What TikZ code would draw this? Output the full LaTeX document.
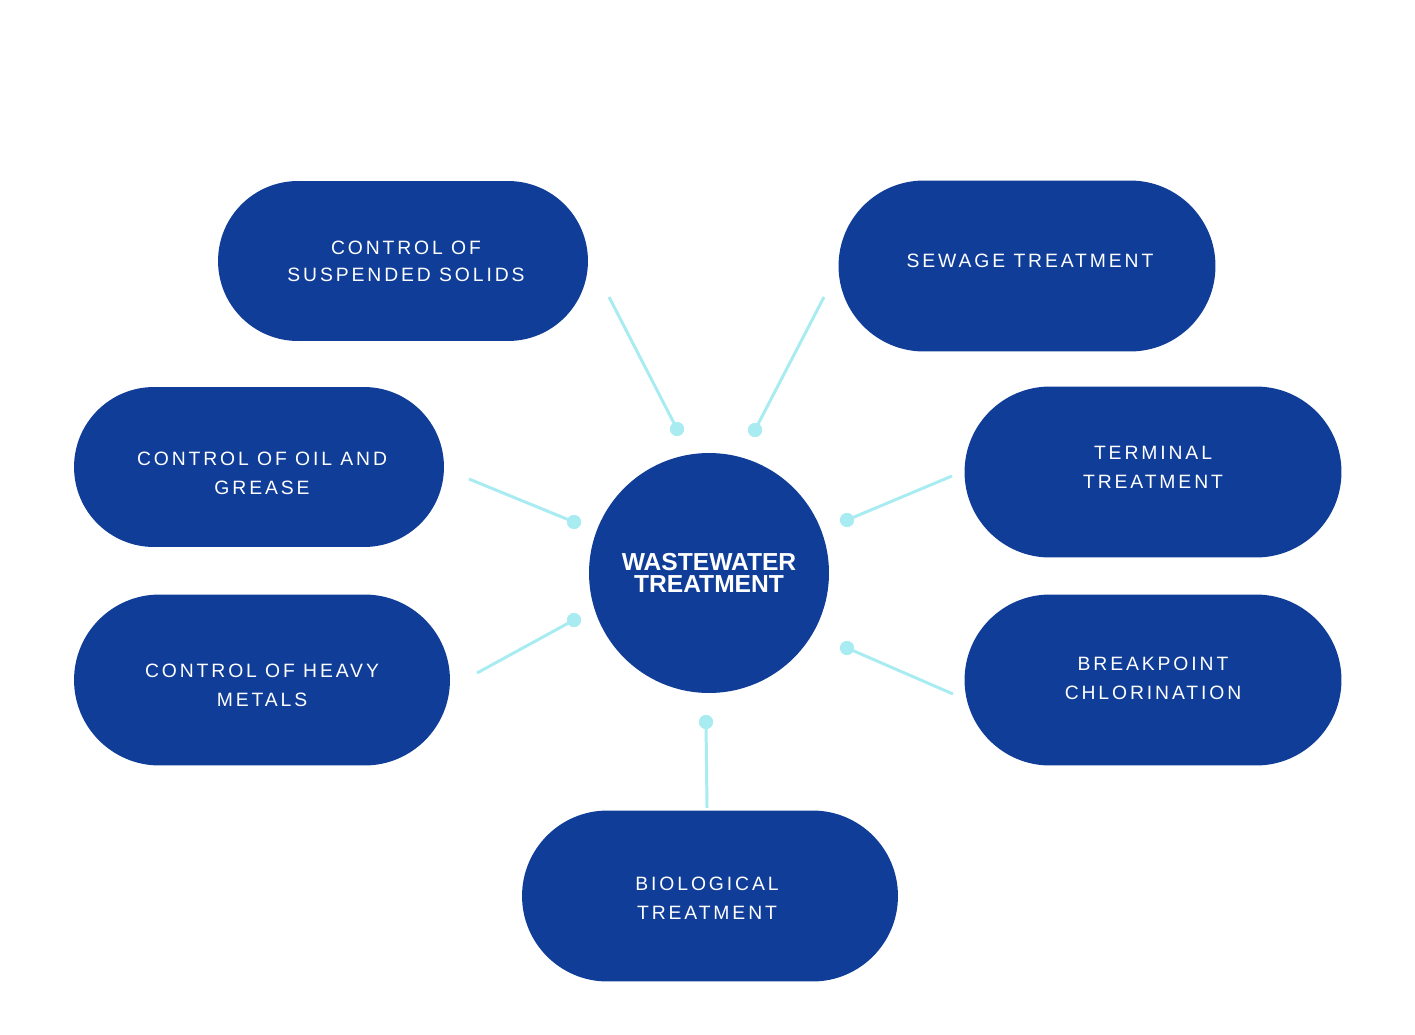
\documentclass[tikz,border=0pt]{standalone}
\usepackage{fontspec}
\setmainfont{Liberation Sans}
\newfontfamily\pillfont[LetterSpace=15]{Liberation Sans}
\usetikzlibrary{shapes.misc}
\definecolor{navy}{HTML}{0F3D98}
\definecolor{aqua}{HTML}{A8ECF2}

\begin{document}
\begin{tikzpicture}[x=0.02cm, y=-0.02cm,
	pill/.style={rounded rectangle, fill=navy, inner sep=0pt,
		minimum width=7.54cm, minimum height=3.42cm},
	pilltext/.style={text=white, align=center, inner sep=0pt,
		font=\pillfont\fontsize{11}{16.4}\selectfont},
	hub/.style={circle, fill=navy, text=white, align=center, minimum size=4.8cm,
		font=\bfseries\fontsize{14}{12.5}\selectfont},
	dot/.style={circle, fill=aqua, inner sep=0pt, minimum size=0.28cm},
	link/.style={draw=aqua, line width=1.7pt}]
	\useasboundingbox (0,0) rectangle (1415,1034);

	\node[hub] (hub) at (709, 573) {WASTEWATER\\TREATMENT};

	\node[pill, minimum width=7.4cm, minimum height=3.2cm] (solids) at (403, 261) {};
	\node[pill] (sewage) at (1027, 266) {};
	\node[pill, minimum width=7.4cm, minimum height=3.2cm] (oil) at (259, 467) {};
	\node[pill, minimum width=7.52cm] (metals) at (262, 680) {};
	\node[pill] (terminal) at (1153, 472) {};
	\node[pill] (breakpoint) at (1153, 680) {};
	\node[pill, minimum width=7.52cm] (bio) at (710, 896) {};

	\node[pilltext, font=\pillfont\fontsize{11}{15.3}\selectfont] (solids-t) at (406, 261) {CONTROL OF\\SUSPENDED SOLIDS};
	\node[pilltext] (sewage-t) at (1030, 261) {SEWAGE TREATMENT};
	\node[pilltext] (oil-t) at (262, 473) {CONTROL OF OIL AND\\GREASE};
	\node[pilltext] (metals-t) at (262, 685) {CONTROL OF HEAVY\\METALS};
	\node[pilltext] (terminal-t) at (1153, 467) {TERMINAL\\TREATMENT};
	\node[pilltext] (breakpoint-t) at (1153, 678) {BREAKPOINT\\CHLORINATION};
	\node[pilltext] (bio-t) at (707, 898) {BIOLOGICAL\\TREATMENT};

	% free ends near the pills
	\coordinate (e1) at (609, 297);
	\coordinate (e2) at (824, 297);
	\coordinate (e3) at (469, 479);
	\coordinate (e4) at (477, 673);
	\coordinate (e5) at (952, 476);
	\coordinate (e6) at (953, 694);
	\coordinate (e7) at (707, 808);

	% dots round the hub
	\node[dot] (d1) at (677, 429) {};
	\node[dot] (d2) at (755, 430) {};
	\node[dot] (d3) at (574, 522) {};
	\node[dot] (d4) at (574, 620) {};
	\node[dot] (d5) at (847, 520) {};
	\node[dot] (d6) at (847, 648) {};
	\node[dot] (d7) at (706, 722) {};

	\path[link]
	(e1) -- (d1.center)
	(e2) -- (d2.center)
	(e3) -- (d3.center)
	(e4) -- (d4.center)
	(e5) -- (d5.center)
	(e6) -- (d6.center)
	(e7) -- (d7.center)
	;
	\foreach \i in {1,...,7} \node[dot] at (d\i) {};
\end{tikzpicture}
\end{document}
